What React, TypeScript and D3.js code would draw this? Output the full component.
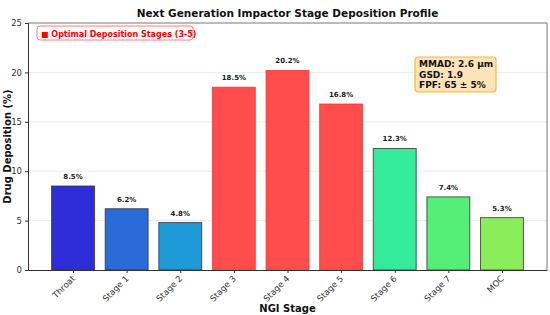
import React, { useEffect, useRef } from "react";
import * as d3 from "d3";

const stages = ["Throat", "Stage 1", "Stage 2", "Stage 3", "Stage 4", "Stage 5", "Stage 6", "Stage 7", "MOC"];
const deposition = [8.5, 6.2, 4.8, 18.5, 20.2, 16.8, 12.3, 7.4, 5.3];
const barColors = ["#2e2ed8", "#2a6ad9", "#1f9ad9", "#ff4c4c", "#ff4c4c", "#ff4c4c", "#33eb9a", "#55ee77", "#8aee5a"];
const optimal = ["Stage 3", "Stage 4", "Stage 5"];
const yTicks = [0, 5, 10, 15, 20, 25];
const infoLines = ["MMAD: 2.6 µm", "GSD: 1.9", "FPF: 65 ± 5%"];

const W = 550;
const H = 315;
const FONT = "'DejaVu Sans', sans-serif";

const App = () => {
  const svgRef = useRef<SVGSVGElement>(null);

  useEffect(() => {
    const root = d3.select(svgRef.current);
    root.selectAll("*").remove();

    const margin = { top: 23, right: 3, bottom: 45, left: 28 };
    const width = W - margin.left - margin.right;
    const height = H - margin.top - margin.bottom;

    const svg = root
      .append("g")
      .attr("transform", `translate(${margin.left},${margin.top})`);

    // bar width 0.8 with 5% side margins
    const x = d3.scaleLinear().domain([-0.84, stages.length - 1 + 0.84]).range([0, width]);
    const y = d3.scaleLinear().domain([0, 25]).range([height, 0]);
    const bw = x(0.8) - x(0);

    svg
      .selectAll(".grid")
      .data(yTicks.slice(1, -1))
      .join("line")
      .attr("x1", 0)
      .attr("x2", width)
      .attr("y1", (d) => y(d))
      .attr("y2", (d) => y(d))
      .attr("stroke", "#e6e6e6")
      .attr("stroke-width", 0.8);

    svg
      .selectAll(".bar")
      .data(deposition)
      .join("rect")
      .attr("x", (_, i) => x(i) - bw / 2)
      .attr("y", (d) => y(d))
      .attr("width", bw)
      .attr("height", (d) => height - y(d))
      .attr("fill", (_, i) => barColors[i])
      .attr("stroke", (_, i) => (optimal.includes(stages[i]) ? "#ff3030" : "#333"))
      .attr("stroke-opacity", 0.8)
      .attr("stroke-width", 1);

    svg
      .selectAll(".val")
      .data(deposition)
      .join("text")
      .attr("x", (_, i) => x(i))
      .attr("y", (d) => y(d) - 7)
      .attr("text-anchor", "middle")
      .attr("font-family", FONT)
      .attr("font-size", 7)
      .attr("font-weight", "bold")
      .attr("fill", "#222")
      .text((d) => `${d.toFixed(1)}%`);

    // top / right spines
    svg.append("line").attr("x1", 0).attr("x2", width).attr("y1", 0).attr("y2", 0).attr("stroke", "#777");
    svg.append("line").attr("x1", width).attr("x2", width).attr("y1", 0).attr("y2", height).attr("stroke", "#777");

    const yAxis = svg
      .append("g")
      .call(d3.axisLeft(y).tickValues(yTicks).tickSize(3).tickPadding(3));
    yAxis.select(".domain").attr("stroke", "#333");
    yAxis.selectAll("line").attr("stroke", "#333");
    yAxis.selectAll("text").attr("font-family", FONT).attr("font-size", 8.5).attr("fill", "#333");

    const xAxis = svg
      .append("g")
      .attr("transform", `translate(0,${height})`)
      .call(
        d3
          .axisBottom(x)
          .tickValues(d3.range(stages.length))
          .tickFormat((d) => stages[d as number])
          .tickSize(3)
          .tickSizeOuter(0)
      );
    xAxis.select(".domain").attr("stroke", "#333");
    xAxis.selectAll("line").attr("stroke", "#333");
    xAxis
      .selectAll("text")
      .attr("font-family", FONT)
      .attr("font-size", 8.5)
      .attr("fill", "#333")
      .attr("text-anchor", "end")
      .attr("x", 0)
      .attr("y", 0)
      .attr("dy", "0.35em")
      .attr("transform", "translate(0,7) rotate(-45)");

    root
      .append("text")
      .attr("x", margin.left + width / 2)
      .attr("y", 17)
      .attr("text-anchor", "middle")
      .attr("font-family", FONT)
      .attr("font-size", 10.5)
      .attr("font-weight", "bold")
      .attr("fill", "#111")
      .text("Next Generation Impactor Stage Deposition Profile");

    root
      .append("text")
      .attr("x", margin.left + width / 2)
      .attr("y", 312)
      .attr("text-anchor", "middle")
      .attr("font-family", FONT)
      .attr("font-size", 10)
      .attr("font-weight", "bold")
      .attr("fill", "#111")
      .text("NGI Stage");

    root
      .append("text")
      .attr("transform", `translate(11,${margin.top + height / 2}) rotate(-90)`)
      .attr("text-anchor", "middle")
      .attr("font-family", FONT)
      .attr("font-size", 10)
      .attr("font-weight", "bold")
      .attr("fill", "#111")
      .text("Drug Deposition (%)");

    const lg = svg.append("g").attr("transform", "translate(9,3)");
    lg.append("rect")
      .attr("width", 156)
      .attr("height", 14)
      .attr("rx", 3)
      .attr("fill", "white")
      .attr("stroke", "#ff6060")
      .attr("stroke-width", 0.8);
    lg.append("text")
      .attr("x", 4)
      .attr("y", 10.5)
      .attr("font-family", FONT)
      .attr("font-size", 8)
      .attr("font-weight", "bold")
      .attr("fill", "#ff0000")
      .text("■ Optimal Deposition Stages (3-5)");

    const ib = root.append("g").attr("transform", "translate(415,57)");
    ib.append("rect")
      .attr("width", 81)
      .attr("height", 35)
      .attr("rx", 3)
      .attr("fill", "#fde4b8")
      .attr("stroke", "#f5b642")
      .attr("stroke-width", 1.2);
    ib.selectAll("text")
      .data(infoLines)
      .join("text")
      .attr("x", 4)
      .attr("y", (_, i) => 10 + i * 10.5)
      .attr("font-family", FONT)
      .attr("font-size", 9)
      .attr("font-weight", "bold")
      .attr("fill", "#111")
      .text((d) => d);
  }, []);

  return <svg ref={svgRef} width={W} height={H} style={{ display: "block", position: "absolute", left: 0, top: 0 }} />;
};

export default App;
